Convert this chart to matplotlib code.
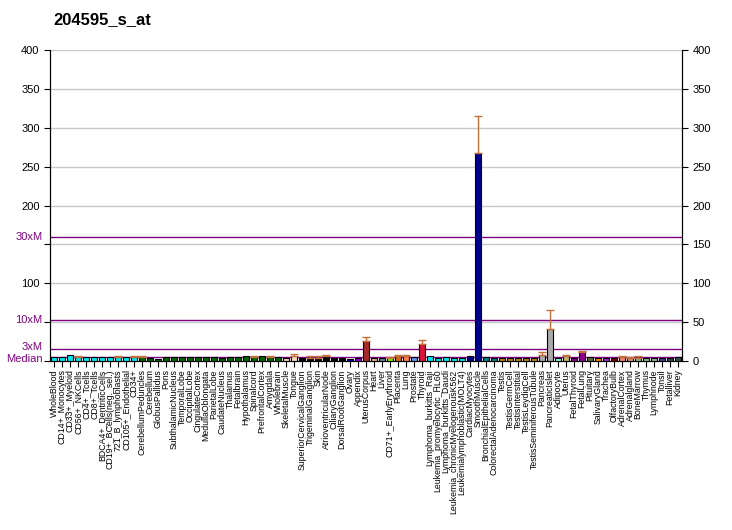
import numpy as np
import matplotlib
matplotlib.use("Agg")
import matplotlib.pyplot as plt
from matplotlib.transforms import blended_transform_factory, offset_copy

plt.rcParams['font.family'] = ['Liberation Sans', 'DejaVu Sans']

labels = ["WholeBlood", "CD14+_Monocytes", "CD33+_Myeloid", "CD56+_NKCells", "CD4+_Tcells",
          "CD8+_Tcells", "BDCA4+_DentriticCells", "CD19+_BCells(neg._sel.)", "721_B_lymphoblasts",
          "CD105+_Endothelial", "CD34+", "CerebellumPeduncles", "Cerebellum", "GlobusPallidus",
          "Pons", "SubthalamicNucleus", "TemporalLobe", "OccipitalLobe", "CingulateCortex",
          "MedullaOblongata", "ParietalLobe", "CaudateNucleus", "Thalamus", "Fetalbrain",
          "Hypothalamus", "Spinalcord", "PrefrontalCortex", "Amygdala", "Wholebrain",
          "SkeletalMuscle", "Tongue", "SuperiorCervicalGanglion", "TrigeminalGanglion", "Skin",
          "AtrioventricularNode", "CiliaryGanglion", "DorsalRootGanglion", "Ovary", "Appendix",
          "UterusCorpus", "Heart", "Liver", "CD71+_EarlyErythroid", "Placenta", "Lung",
          "Prostate", "Thyroid", "Lymphoma_burkitts_Raji", "Leukemia_promyelocytic_HL60",
          "Lymphoma_burkitts_Daudi", "Leukemia_chronicMyelogenousK562",
          "Leukemialymphoblastic(MOLT4)", "CardiacMyocytes", "SmoothMuscle",
          "BronchialEpithelialCells", "ColorectalAdenocarcinoma", "Testis", "TestisGermCell",
          "TestisInterstitial", "TestisLeydigCell", "TestisSeminiferousTubule", "Pancreas",
          "PancreaticIslet", "Adipocyte", "Uterus", "FetalThyroid", "FetalLung", "Pituitary",
          "SalivaryGland", "Trachea", "OlfactoryBulb", "AdrenalCortex", "Adrenalgland",
          "BoneMarrow", "Thymus", "Lymphnode", "Tonsil", "Fetalliver", "Kidney"]

values = [5.5, 5.5, 7.5, 5.5, 5.5, 5.5, 5.5, 5.5, 5.5, 5.5, 5.5,
          5, 3.5, 3, 5, 5, 5, 5, 5, 5, 5, 4, 5, 5, 6, 5, 6, 5, 5,
          4.5, 6, 4, 4.5, 4.5, 6, 4, 4, 3, 4.5, 26, 4, 4, 4.5, 7, 6.5, 5.5, 22,
          6.5, 4, 5.5, 4, 4, 7, 268, 5.5, 4.5, 4.5, 4.5, 4.5, 3.5, 4.5, 8, 41,
          4, 7, 4, 11.5, 5.5, 4, 4, 4, 5.5, 3.5, 4, 4, 4, 4, 4, 5]

errors = [0, 0, 0, 1.5, 0, 0, 0, 0, 1.5, 0, 1.5,
          1.5, 0, 0, 0, 0, 0, 0, 0, 0, 0, 0, 0, 0, 0, 1.5, 0, 1.5, 0,
          0, 3, 0, 1.5, 1.5, 2, 0, 0, 0, 0, 5, 0, 0, 1, 1, 1, 0, 5,
          0, 0, 0, 0, 0, 0, 47, 0, 0, 0, 0, 0, 0, 0, 4, 25,
          0, 1, 0, 1, 0, 0, 0, 0, 1, 1.5, 3, 0, 0, 0, 0, 0]

colors = (["#00e5ee"] * 11 + ["#006400"] * 18 + ["#ffdab9"] * 2 + ["#000000"] * 6 +
          ["#0000cd", "#9400d3", "#a52a2a", "#deb887", "#708090", "#7cfc00", "#d2691e",
           "#ff7f50", "#6495ed", "#dc143c"] + ["#00e5ee"] * 5 + ["#00008b"] * 2 +
          ["#008080"] * 2 + ["#b8860b"] * 5 + ["#a9a9a9"] * 2 +
          ["#7fffd4", "#bdb76b", "#8b008b", "#8b008b", "#556b2f", "#ff8c00", "#9932cc",
           "#8b0000", "#fa8072", "#e9967a", "#8fbc8f", "#8fbc8f", "#8fbc8f", "#483d8b",
           "#2f4f4f", "#2f4f4f"])

median = 5.3
ref_lines = [median, 3 * median, 10 * median, 30 * median]
ref_names = ["Median", "3xM", "10xM", "30xM"]
# small vertical nudges (points) so the two lowest labels do not collide
ref_nudge = [-1.5, 1.5, 0, 0]

fig = plt.figure(figsize=(7.32, 5.30), dpi=100)
ax = fig.add_axes([50 / 732, 169 / 530, 632 / 732, 311 / 530])

x = np.arange(len(labels))
ax.bar(x, values, width=0.85, color=colors, edgecolor="black", linewidth=0.8, zorder=3)
for xi, v, e in zip(x, values, errors):
    if e > 0:
        ax.errorbar(xi, v, yerr=[[0], [e]], color="#c0703c", capsize=3, linewidth=1, zorder=4)

ax.set_xlim(-0.5, len(labels) - 0.5)
ax.set_ylim(0, 400)
for yv in range(50, 401, 50):
    ax.axhline(yv, color="#c8c8c8", linewidth=1, zorder=1)
for yv in ref_lines:
    ax.axhline(yv, color="#800080", linewidth=1, zorder=2)

ax.set_xticks(x)
ax.set_xticklabels(labels, rotation=90, fontsize=6.3)
ax.tick_params(axis="x", length=4, pad=2)

ticks = list(range(0, 401, 50))
ax.set_yticks(ticks)
ax.set_yticklabels(["" if t in (0, 50, 150) else str(t) for t in ticks], fontsize=8)
ax.tick_params(axis="y", length=4)

trans = blended_transform_factory(ax.transAxes, ax.transData)
for yv, name, dy in zip(ref_lines, ref_names, ref_nudge):
    tr = offset_copy(trans, fig=fig, y=dy, units="points")
    ax.text(-0.012, yv, name, color="#800080", fontsize=8, ha="right", va="center",
            transform=tr)

ax2 = ax.twinx()
ax2.set_ylim(0, 400)
ax2.set_yticks(ticks)
ax2.set_yticklabels([str(t) for t in ticks], fontsize=8)
ax2.tick_params(axis="y", length=4)

for a in (ax, ax2):
    a.spines["top"].set_visible(False)

fig.text(53 / 732, 1 - 20 / 530, "204595_s_at", fontsize=12, fontweight="bold",
         va="center", ha="left")

fig.savefig("out.png", dpi=100)
